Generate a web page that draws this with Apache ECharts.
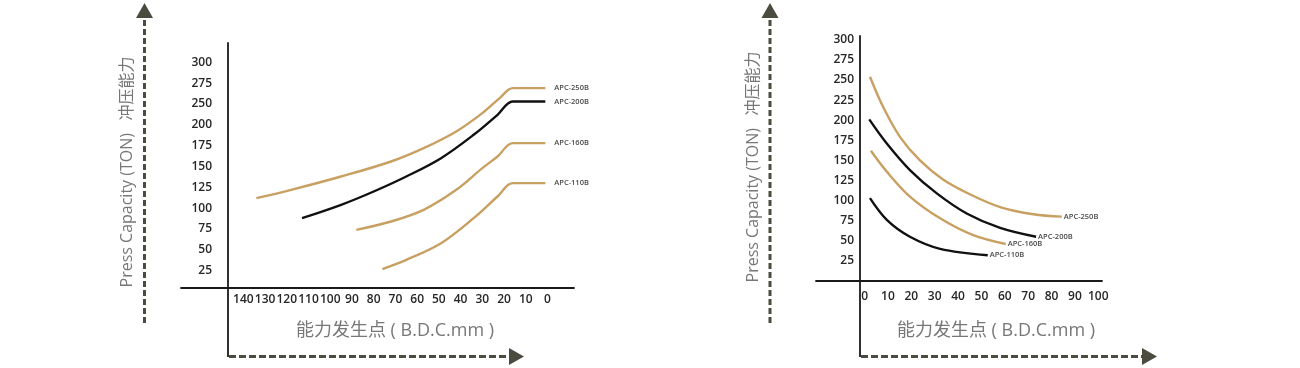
<!DOCTYPE html>
<html>
<head>
<meta charset="utf-8">
<style>
  html, body { margin: 0; padding: 0; background: #ffffff; }
  #chart { width: 1300px; height: 368px; }
</style>
<script src="https://cdn.jsdelivr.net/npm/echarts@6/dist/echarts.min.js"></script>
</head>
<body>
<div id="chart"></div>
<script>
// ---------- Tick labels ----------
const leftXTicks = [0, 10, 20, 30, 40, 50, 60, 70, 80, 90, 100, 110, 120, 130, 140];
const leftYLabels = [25, 50, 75, 100, 125, 150, 175, 200, 250, 275, 300];
const rightXTicks = [0, 10, 20, 30, 40, 50, 60, 70, 80, 90, 100];
const rightYTicks = [25, 50, 75, 100, 125, 150, 175, 200, 225, 250, 275, 300];

// ---------- Series names ----------
const seriesNames = ['APC-250B', 'APC-200B', 'APC-160B', 'APC-110B'];

// ---------- Left chart (x: mm, y: TON) ----------
const L250x = [134, 118, 95, 72, 57, 42, 30, 22, 16, 1];
const L250y = [112, 122, 138, 156, 172, 192, 228, 257, 269, 269];
const L200x = [113, 95, 80, 65, 49, 34, 23, 16, 1];
const L200y = [88, 104, 120, 138, 160, 188, 224, 253, 253];
const L160x = [88, 72, 57, 42, 30, 23, 16, 1];
const L160y = [74, 84, 98, 122, 148, 162, 178, 178];
const L110x = [76, 65, 49, 34, 23, 16, 1];
const L110y = [27, 38, 58, 88, 114, 130, 130];

// ---------- Right chart (x: mm, y: TON) ----------
const R250x = [2.3, 8, 15.2, 23.7, 33.7, 45.7, 58, 72.2, 84.4];
const R250y = [254, 216, 179, 150, 126, 107, 92, 83, 80];
const R200x = [2, 9.5, 19.4, 30.9, 43.7, 58, 73.4];
const R200y = [201, 171, 138, 109, 84, 66, 55];
const R160x = [2.7, 9.5, 19.4, 32.3, 46.5, 60.4];
const R160y = [162, 136, 105, 78, 57, 46];
const R110x = [2.3, 9.5, 19.4, 32.3, 52.7];
const R110y = [103, 76, 55, 40, 32];

const GOLD = '#c8a062';
const BLACK = '#111111';
const AXIS = '#1a1a1a';
const ARROW = '#4b4b3f';
const NAMEC = '#777777';
const FONT = "'Open Sans', 'Noto Sans CJK SC', sans-serif";

// Left y axis: labels are evenly spaced although 225 is skipped.
// Map a TON value to its position on that label ladder.
const LEFT_SHIFT = 0.184;
function leftPos(t) {
  if (t <= leftYLabels[0]) return (t / leftYLabels[0]) - LEFT_SHIFT;
  for (let i = 0; i < leftYLabels.length - 1; i++) {
    const a = leftYLabels[i], b = leftYLabels[i + 1];
    if (t <= b) return (i + 1) + (t - a) / (b - a) - LEFT_SHIFT;
  }
  const n = leftYLabels.length;
  return n + (t - leftYLabels[n - 1]) / 25 - LEFT_SHIFT;
}
function zipLeft(xs, ys) { return xs.map((x, i) => [x, leftPos(ys[i])]); }
function zip(xs, ys) { return xs.map((x, i) => [x, ys[i]]); }

function lineSeries(name, data, color, xi, dist) {
  return {
    type: 'line', name: name, xAxisIndex: xi, yAxisIndex: xi,
    data: data, showSymbol: false, symbol: 'none',
    smooth: 0.35,
    lineStyle: { color: color, width: 2.4 },
    silent: true, animation: false,
    endLabel: { show: true, formatter: '{a}', color: '#4a4a4a', fontSize: 7.5,
      fontWeight: 600, fontFamily: FONT, distance: dist, align: 'left', verticalAlign: 'middle' }
  };
}

const tickLabel = { color: '#262626', fontSize: 12, fontFamily: FONT, fontWeight: 600,
  hideOverlap: false, showMinLabel: true, showMaxLabel: true };

const chart = echarts.init(document.getElementById('chart'), null, { renderer: 'canvas' });
const option = {
  animation: false,
  backgroundColor: '#ffffff',
  grid: [
    { left: 181, right: 726, top: 43, bottom: 80.3, containLabel: false, outerBoundsMode: 'none' },
    { left: 816, right: 198, top: 36, bottom: 87, containLabel: false, outerBoundsMode: 'none' }
  ],
  xAxis: [
    { type: 'value', gridIndex: 0, inverse: true, min: -12.2, max: 168.7, position: 'bottom',
      axisLine: { show: true, onZero: false, lineStyle: { color: AXIS, width: 1.8 } },
      axisTick: { show: false }, splitLine: { show: false },
      axisLabel: Object.assign({ customValues: leftXTicks, margin: 6 }, tickLabel) },
    { type: 'value', gridIndex: 1, min: -20.8, max: 101.6, position: 'bottom',
      axisLine: { show: true, onZero: false, lineStyle: { color: AXIS, width: 1.8 } },
      axisTick: { show: false }, splitLine: { show: false },
      axisLabel: Object.assign({ customValues: rightXTicks, margin: 10 }, tickLabel) }
  ],
  yAxis: [
    { type: 'value', gridIndex: 0, min: 0, max: 11.742, offset: -47,
      axisLine: { show: true, onZero: false, lineStyle: { color: AXIS, width: 1.8 } },
      axisTick: { show: false }, splitLine: { show: false },
      axisLabel: Object.assign({
        customValues: leftYLabels.map(leftPos), margin: 16,
        formatter: function (v) {
          let best = 0, bd = 1e9;
          leftYLabels.forEach((t, i) => { const d = Math.abs(leftPos(t) - v); if (d < bd) { bd = d; best = i; } });
          return String(leftYLabels[best]);
        } }, tickLabel) },
    { type: 'value', gridIndex: 1, min: 0, max: 304.7, offset: -44,
      axisLine: { show: true, onZero: false, lineStyle: { color: AXIS, width: 1.8 } },
      axisTick: { show: false }, splitLine: { show: false },
      axisLabel: Object.assign({ customValues: rightYTicks, margin: 6 }, tickLabel) }
  ],
  series: [
    lineSeries(seriesNames[0], zipLeft(L250x, L250y), GOLD, 0, -9),
    lineSeries(seriesNames[1], zipLeft(L200x, L200y), BLACK, 0, -9),
    lineSeries(seriesNames[2], zipLeft(L160x, L160y), GOLD, 0, -9),
    lineSeries(seriesNames[3], zipLeft(L110x, L110y), GOLD, 0, -9),
    lineSeries(seriesNames[0], zip(R250x, R250y), GOLD, 1, 2),
    lineSeries(seriesNames[1], zip(R200x, R200y), BLACK, 1, 2),
    lineSeries(seriesNames[2], zip(R160x, R160y), GOLD, 1, 2),
    lineSeries(seriesNames[3], zip(R110x, R110y), BLACK, 1, 2)
  ],
  graphic: [
    // left decorations
    { type: 'line', shape: { x1: 228, y1: 287, x2: 228, y2: 357 }, style: { stroke: AXIS, lineWidth: 1.8 }, silent: true },
    { type: 'line', shape: { x1: 144.5, y1: 323, x2: 144.5, y2: 18 }, style: { stroke: ARROW, lineWidth: 3, lineDash: [6, 3] }, silent: true },
    { type: 'polygon', shape: { points: [[144.5, 3], [136, 18], [153, 18]] }, style: { fill: ARROW }, silent: true },
    { type: 'line', shape: { x1: 229, y1: 356.5, x2: 509, y2: 356.5 }, style: { stroke: ARROW, lineWidth: 3, lineDash: [7, 3] }, silent: true },
    { type: 'polygon', shape: { points: [[524, 356.5], [509, 348], [509, 365]] }, style: { fill: ARROW }, silent: true },
    { type: 'text', x: 127, y: 172, rotation: Math.PI / 2,
      style: { text: 'Press Capacity (TON)   冲压能力', fill: NAMEC, font: '16px ' + FONT, align: 'center', verticalAlign: 'middle' }, silent: true },
    { type: 'text', x: 395, y: 331,
      style: { text: '能力发生点 ( B.D.C.mm )', fill: NAMEC, font: '18px ' + FONT, align: 'center', verticalAlign: 'middle' }, silent: true },
    // right decorations
    { type: 'line', shape: { x1: 860, y1: 280, x2: 860, y2: 357 }, style: { stroke: AXIS, lineWidth: 1.8 }, silent: true },
    { type: 'line', shape: { x1: 770, y1: 323, x2: 770, y2: 18 }, style: { stroke: ARROW, lineWidth: 3, lineDash: [6, 3] }, silent: true },
    { type: 'polygon', shape: { points: [[770, 3], [761.5, 18], [778.5, 18]] }, style: { fill: ARROW }, silent: true },
    { type: 'line', shape: { x1: 861, y1: 356.5, x2: 1142, y2: 356.5 }, style: { stroke: ARROW, lineWidth: 3, lineDash: [7, 3] }, silent: true },
    { type: 'polygon', shape: { points: [[1157, 356.5], [1142, 348], [1142, 365]] }, style: { fill: ARROW }, silent: true },
    { type: 'text', x: 753, y: 167, rotation: Math.PI / 2,
      style: { text: 'Press Capacity (TON)   冲压能力', fill: NAMEC, font: '16px ' + FONT, align: 'center', verticalAlign: 'middle' }, silent: true },
    { type: 'text', x: 996, y: 331,
      style: { text: '能力发生点 ( B.D.C.mm )', fill: NAMEC, font: '18px ' + FONT, align: 'center', verticalAlign: 'middle' }, silent: true }
  ]
};
chart.setOption(option);
</script>
</body>
</html>
